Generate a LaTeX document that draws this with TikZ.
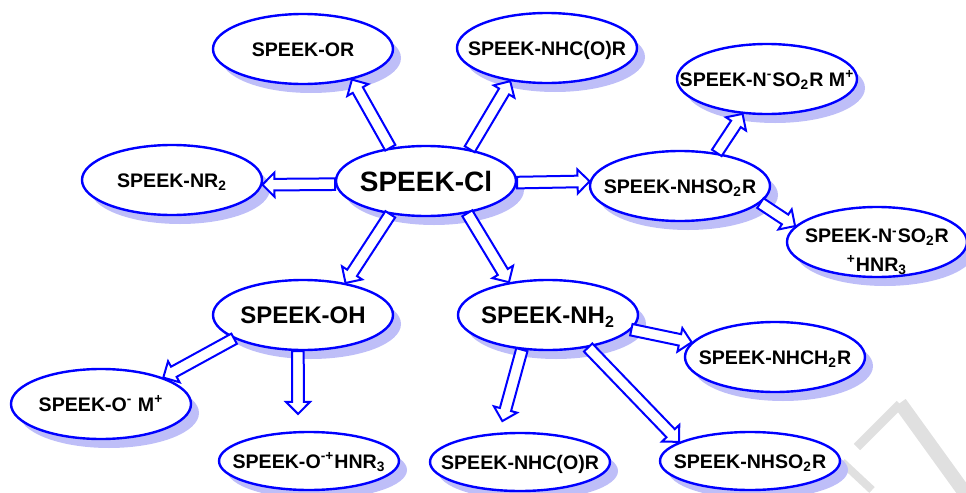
\documentclass[tikz,border=0pt]{standalone}
\usepackage{fontspec}
\setmainfont{Liberation Sans}
\usetikzlibrary{calc,shapes.geometric,shadows}
\definecolor{shadowblue}{RGB}{190,190,248}
\definecolor{markgray}{RGB}{224,224,224}
% text that may run past the ellipse, caps centred on the node
\newcommand{\fitin}[1]{\makebox[0pt]{\raisebox{-0.36em}[0pt][0pt]{#1}}}
% hollow block arrow from #1 to #2
\newcommand{\blockarrow}[2]{%
  \draw[barrow] let \p1=#1, \p2=#2,
      \n1={atan2(\y2-\y1,\x2-\x1)}, \n2={veclen(\x2-\x1,\y2-\y1)} in
    [shift={(\p1)},rotate=\n1]
    (0pt,-2.9pt) -- (\n2-6pt,-2.9pt) -- (\n2-6pt,-6pt) -- (\n2,0pt)
    -- (\n2-6pt,6pt) -- (\n2-6pt,2.9pt) -- (0pt,2.9pt) -- cycle;}
\begin{document}
\begin{tikzpicture}[x=0.5pt,y=-0.5pt,
  bubble/.style={ellipse,draw=blue,line width=1.2pt,fill=white,inner sep=0pt,
    minimum width=90pt,minimum height=35pt,
    drop shadow={shadow xshift=4pt,shadow yshift=-4.5pt,fill=shadowblue,opacity=1},
    font=\fontsize{9.8}{14.3}\selectfont\bfseries},
  big/.style={font=\fontsize{14}{16}\selectfont\bfseries},
  mid/.style={font=\fontsize{12}{14}\selectfont\bfseries},
  low/.style={minimum height=29pt},
  barrow/.style={draw=blue,line width=1pt,fill=white}]
  \useasboundingbox (0,0) rectangle (966,493);
  % watermark
  \draw[markgray,line width=7pt] (900,403) -- (970,500);
  \draw[markgray,line width=4.5pt] (857,447) -- (900,404);
  \draw[markgray,line width=4pt] (842,462) -- (872,490);
  % top row
  \node[bubble] (or) at (303,49) {\fitin{SPEEK-OR}};
  \node[bubble] (nhcor) at (547,48) {\fitin{SPEEK-NHC(O)R}};
  \node[bubble] (msalt) at (767,79)
    {\fitin{SPEEK-N\textsuperscript{-}SO\textsubscript{2}R M\textsuperscript{+}}};
  % middle row
  \node[bubble] (nr) at (172,180) {\fitin{SPEEK-NR\textsubscript{2}}};
  \node[bubble,big] (cl) at (426,181) {\fitin{SPEEK-Cl}};
  \node[bubble] (nhso) at (680,186) {\fitin{SPEEK-NHSO\textsubscript{2}R}};
  \node[bubble] (amsalt) at (877,242)
    {\makebox[0pt]{\raisebox{-7pt}[0pt][0pt]{\begin{tabular}{@{}c@{}}
      SPEEK-N\textsuperscript{-}SO\textsubscript{2}R\\
      \textsuperscript{+}HNR\textsubscript{3}\end{tabular}}}};
  % lower rows
  \node[bubble,mid] (oh) at (303,315) {\fitin{SPEEK-OH}};
  \node[bubble,mid] (nh) at (548,315) {\fitin{SPEEK-NH\textsubscript{2}}};
  \node[bubble] (om) at (101,404) {\fitin{SPEEK-O\textsuperscript{-} M\textsuperscript{+}}};
  \node[bubble] (nhch) at (775,357) {\fitin{SPEEK-NHCH\textsubscript{2}R}};
  \node[bubble,low] (ohnr) at (309,461)
    {\fitin{SPEEK-O\textsuperscript{-+}HNR\textsubscript{3}}};
  \node[bubble,low] (nhcortwo) at (520,462) {\fitin{SPEEK-NHC(O)R}};
  \node[bubble,low] (nhsotwo) at (750,461) {\fitin{SPEEK-NHSO\textsubscript{2}R}};
  % arrows from SPEEK-Cl
  \blockarrow{(cl.137)}{(or.-32)}
  \blockarrow{(cl.36)}{(nhcor.-138)}
  \blockarrow{(cl.182)}{(nr.-3)}
  \blockarrow{(cl.-1)}{(nhso.177)}
  \blockarrow{(cl.-137)}{(oh.37)}
  \blockarrow{(cl.-38)}{(nh.140)}
  % arrows from SPEEK-NHSO2R
  \blockarrow{(nhso.42)}{(msalt.-125)}
  \blockarrow{(nhso.-12)}{(amsalt.169)}
  % arrows from SPEEK-OH
  \blockarrow{(oh.-161)}{(om.23)}
  \blockarrow{(oh.-98)}{($(ohnr.103)+(-4,-17)$)}
  % arrows from SPEEK-NH2
  \blockarrow{(nh.-10)}{(nhch.170)}
  \blockarrow{(nh.-127)}{($(nhcortwo.113)+(-5,-11)$)}
  \blockarrow{(nh.-39)}{(nhsotwo.165)}
\end{tikzpicture}
\end{document}
